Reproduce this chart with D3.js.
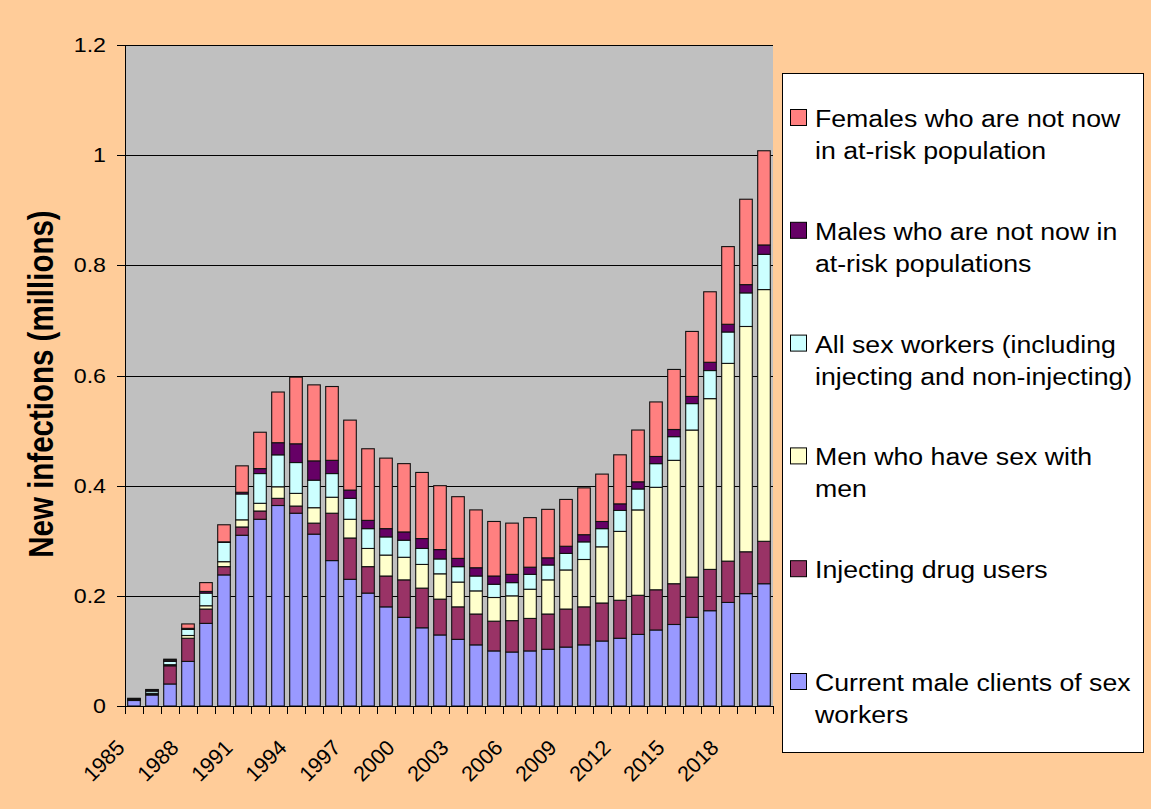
<!DOCTYPE html>
<html>
<head>
<meta charset="utf-8">
<script src="https://cdn.jsdelivr.net/npm/d3@7"></script>
<style>
  html, body { margin: 0; padding: 0; background: #FFCC99; }
  svg { display: block; }
  text { font-family: "Liberation Sans", Arial, Helvetica, sans-serif; fill: #000; }
</style>
</head>
<body>
<svg id="chart" width="1151" height="809"></svg>
<script>
// ---- Data ----
const years = [1985, 1986, 1987, 1988, 1989, 1990, 1991, 1992, 1993, 1994, 1995, 1996,
  1997, 1998, 1999, 2000, 2001, 2002, 2003, 2004, 2005, 2006, 2007, 2008,
  2009, 2010, 2011, 2012, 2013, 2014, 2015, 2016, 2017, 2018, 2019, 2020];

const clients = [0.010, 0.020, 0.040, 0.081, 0.150, 0.238, 0.310, 0.339, 0.364, 0.350, 0.312, 0.264,
  0.230, 0.205, 0.180, 0.161, 0.142, 0.129, 0.121, 0.111, 0.100, 0.098, 0.100, 0.103,
  0.107, 0.111, 0.118, 0.123, 0.130, 0.138, 0.148, 0.161, 0.173, 0.188, 0.204, 0.222];
const idu = [0.001, 0.002, 0.033, 0.042, 0.026, 0.015, 0.015, 0.015, 0.013, 0.013, 0.020, 0.086,
  0.075, 0.048, 0.056, 0.068, 0.072, 0.065, 0.059, 0.056, 0.054, 0.057, 0.059, 0.064,
  0.069, 0.069, 0.069, 0.069, 0.071, 0.073, 0.074, 0.073, 0.075, 0.075, 0.076, 0.077];
const msm = [0.000, 0.001, 0.002, 0.005, 0.006, 0.009, 0.013, 0.014, 0.021, 0.023, 0.028, 0.029,
  0.034, 0.033, 0.038, 0.041, 0.043, 0.046, 0.045, 0.042, 0.043, 0.045, 0.053, 0.062,
  0.071, 0.086, 0.102, 0.125, 0.155, 0.186, 0.224, 0.267, 0.310, 0.359, 0.409, 0.457];
const sexWorkers = [0.001, 0.004, 0.006, 0.011, 0.023, 0.035, 0.047, 0.054, 0.058, 0.056, 0.050, 0.043,
  0.038, 0.036, 0.033, 0.031, 0.029, 0.027, 0.028, 0.027, 0.024, 0.024, 0.027, 0.027,
  0.030, 0.032, 0.033, 0.038, 0.038, 0.043, 0.043, 0.048, 0.051, 0.057, 0.061, 0.064];
const malesNotAtRisk = [0.001, 0.002, 0.002, 0.002, 0.003, 0.001, 0.003, 0.009, 0.022, 0.034, 0.035, 0.024,
  0.015, 0.015, 0.015, 0.015, 0.018, 0.017, 0.015, 0.015, 0.015, 0.015, 0.013, 0.013,
  0.013, 0.013, 0.013, 0.012, 0.013, 0.013, 0.013, 0.013, 0.015, 0.014, 0.015, 0.017];
const femalesNotAtRisk = [0.001, 0.001, 0.002, 0.008, 0.016, 0.031, 0.048, 0.066, 0.092, 0.121, 0.138, 0.134,
  0.127, 0.130, 0.128, 0.124, 0.120, 0.116, 0.112, 0.105, 0.099, 0.093, 0.090, 0.088,
  0.085, 0.085, 0.086, 0.089, 0.094, 0.099, 0.109, 0.118, 0.128, 0.141, 0.155, 0.171];

const seriesKeys = ["clients", "idu", "msm", "sw", "males", "females"];
const seriesColors = ["#9999FF", "#993366", "#FFFFCC", "#CCFFFF", "#660066", "#FF8080"];

const yTicks = [0, 0.2, 0.4, 0.6, 0.8, 1, 1.2];
const yTickLabels = ["0", "0.2", "0.4", "0.6", "0.8", "1", "1.2"];
const xTickLabels = ["1985", "1988", "1991", "1994", "1997", "2000", "2003", "2006", "2009", "2012", "2015", "2018"];
const yTitle = "New infections (millions)";

// legend, top to bottom
const legendKeys = ["females", "males", "sw", "msm", "idu", "clients"];
const legendLabels = [
  ["Females who are not now", "in at-risk population"],
  ["Males who are not now in", "at-risk populations"],
  ["All sex workers (including", "injecting and non-injecting)"],
  ["Men who have sex with", "men"],
  ["Injecting drug users"],
  ["Current male clients of sex", "workers"]
];

// ---- Build table ----
const table = years.map((y, i) => ({
  year: y,
  clients: clients[i], idu: idu[i], msm: msm[i], sw: sexWorkers[i],
  males: malesNotAtRisk[i], females: femalesNotAtRisk[i]
}));

const svg = d3.select("#chart");
const W = 1151, H = 809;
svg.append("rect").attr("width", W).attr("height", H).attr("fill", "#FFCC99");

const plot = { left: 125, right: 773, top: 45, bottom: 706 };
const SX = 1.16; // horizontal text stretch seen in the reference

const x = d3.scaleBand().domain(years).range([plot.left, plot.right]).paddingInner(0.3).paddingOuter(0.15);
const y = d3.scaleLinear().domain([0, 1.2]).range([plot.bottom, plot.top]);
const color = d3.scaleOrdinal().domain(seriesKeys).range(seriesColors);

// plot background
svg.append("rect")
  .attr("x", plot.left).attr("y", plot.top)
  .attr("width", plot.right - plot.left).attr("height", plot.bottom - plot.top)
  .attr("fill", "#C0C0C0");

// gridlines
svg.append("g").selectAll("line").data(yTicks.filter(d => d > 0)).join("line")
  .attr("x1", plot.left).attr("x2", plot.right)
  .attr("y1", d => Math.round(y(d)) + 0.5).attr("y2", d => Math.round(y(d)) + 0.5)
  .attr("stroke", "#000").attr("stroke-width", 1);

// stacked bars
const stack = d3.stack().keys(seriesKeys);
const stacked = stack(table);
const bw = x.bandwidth();
svg.append("g").selectAll("g").data(stacked).join("g")
  .attr("fill", d => color(d.key))
  .selectAll("rect").data(d => d).join("rect")
  .attr("x", d => x(d.data.year))
  .attr("y", d => y(d[1]))
  .attr("width", bw)
  .attr("height", d => Math.max(0, y(d[0]) - y(d[1])))
  .attr("stroke", "#111").attr("stroke-width", 1.1);

// axes
const band = (plot.right - plot.left) / years.length;
const yAxisG = svg.append("g");
yAxisG.append("line").attr("x1", plot.left + 0.5).attr("x2", plot.left + 0.5)
  .attr("y1", plot.top).attr("y2", plot.bottom).attr("stroke", "#000");
yAxisG.selectAll("line.tick").data(yTicks).join("line").attr("class", "tick")
  .attr("x1", plot.left - 8).attr("x2", plot.left)
  .attr("y1", d => Math.round(y(d)) + 0.5).attr("y2", d => Math.round(y(d)) + 0.5)
  .attr("stroke", "#000");
yAxisG.selectAll("text").data(yTicks).join("text")
  .attr("transform", d => `translate(106,${y(d)}) scale(${SX},1)`)
  .attr("text-anchor", "end").attr("dy", "0.35em")
  .attr("font-size", 20)
  .text((d, i) => yTickLabels[i]);

const xAxisG = svg.append("g");
xAxisG.append("line").attr("x1", plot.left).attr("x2", plot.right)
  .attr("y1", plot.bottom + 0.5).attr("y2", plot.bottom + 0.5).attr("stroke", "#000");
const boundaries = years.map((d, i) => plot.left + i * band).concat([plot.right]);
xAxisG.selectAll("line.tick").data(boundaries).join("line").attr("class", "tick")
  .attr("x1", d => Math.round(d) + 0.5).attr("x2", d => Math.round(d) + 0.5)
  .attr("y1", plot.bottom).attr("y2", plot.bottom + 8)
  .attr("stroke", "#000");
xAxisG.selectAll("text").data(xTickLabels).join("text")
  .attr("transform", d => `translate(${x(+d) + bw / 2 - 8},749) rotate(-45)`)
  .attr("text-anchor", "end")
  .attr("font-size", 21.5)
  .text(d => d);

// y title
svg.append("text")
  .attr("transform", `translate(53,384) scale(${SX},1) rotate(-90)`)
  .attr("text-anchor", "middle")
  .attr("font-size", 29.5).attr("font-weight", "bold")
  .text(yTitle);

// legend
const lg = svg.append("g");
lg.append("rect").attr("x", 782.5).attr("y", 73.5).attr("width", 361).attr("height", 679)
  .attr("fill", "#fff").attr("stroke", "#000").attr("stroke-width", 1);
const entryStep = 112.8;
legendKeys.forEach((k, i) => {
  const top = 109 + i * entryStep;
  lg.append("rect").attr("x", 790.5).attr("y", top + 0.5).attr("width", 16).attr("height", 16)
    .attr("fill", color(k)).attr("stroke", "#000").attr("stroke-width", 1);
  legendLabels[i].forEach((line, j) => {
    lg.append("text")
      .attr("transform", `translate(815,${top + 18 + j * 32}) scale(${SX},1)`)
      .attr("font-size", 23)
      .text(line);
  });
});
</script>
</body>
</html>
